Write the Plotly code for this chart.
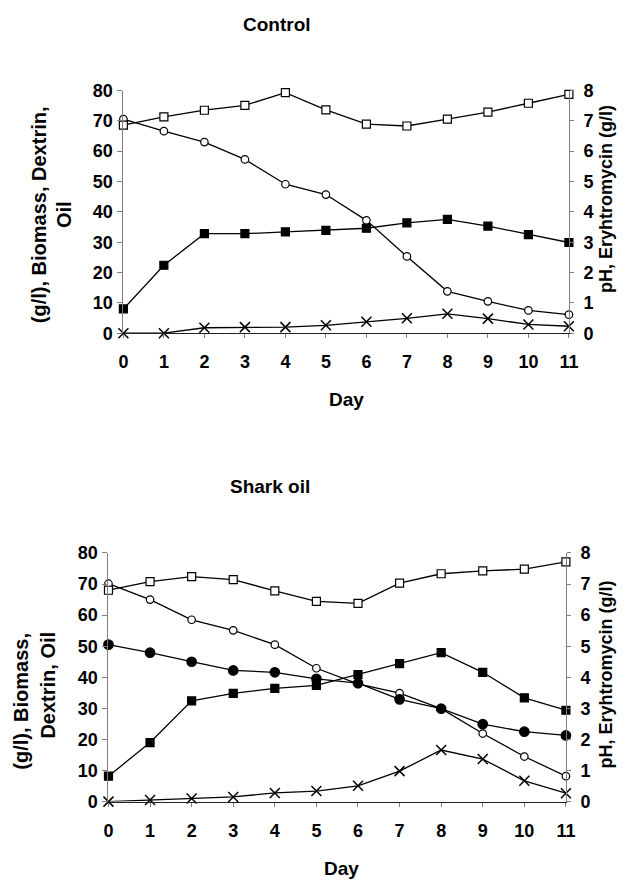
import plotly.graph_objects as go

days = list(range(12))
day_labels = [str(d) for d in days]

# Control
ctrl_ph = [6.86, 7.13, 7.35, 7.51, 7.93, 7.36, 6.89, 6.83, 7.06, 7.29, 7.58, 7.87]
ctrl_dextrin = [70.6, 66.6, 63.0, 57.3, 49.1, 45.7, 37.2, 25.3, 13.8, 10.5, 7.5, 6.1]
ctrl_biomass = [8.0, 22.4, 32.8, 32.8, 33.4, 33.9, 34.6, 36.4, 37.5, 35.3, 32.5, 29.9]
ctrl_ery = [0.0, 0.0, 0.18, 0.20, 0.20, 0.26, 0.38, 0.49, 0.64, 0.48, 0.29, 0.23]

# Shark oil
shark_ph = [6.80, 7.08, 7.24, 7.14, 6.78, 6.44, 6.38, 7.03, 7.33, 7.42, 7.48, 7.71]
shark_dextrin = [70.1, 65.0, 58.5, 55.1, 50.5, 42.9, 37.9, 34.9, 29.9, 21.9, 14.5, 8.2]
shark_oil = [50.5, 47.9, 45.0, 42.2, 41.6, 39.5, 38.1, 32.9, 29.9, 24.9, 22.5, 21.3]
shark_biomass = [8.2, 19.0, 32.4, 34.8, 36.4, 37.4, 40.9, 44.4, 47.9, 41.6, 33.4, 29.4]
shark_ery = [0.0, 0.05, 0.10, 0.15, 0.28, 0.34, 0.51, 0.98, 1.66, 1.37, 0.67, 0.27]

W, H = 640, 900
SX, OX = 0.982, 10.0
SY, OY = 0.979, 16.4
FONT = "Liberation Sans, Arial, sans-serif"
LINE = dict(color="black", width=1.3)


def px(x):
    return ((x - OX) / SX) / W


def py(y):
    return 1 - ((y - OY) / SY) / H


def series(x, y, xa, ya, symbol, size, fill):
    if symbol == "x-thin":
        marker = dict(symbol="x-thin", size=size, color="black",
                      line=dict(color="black", width=1.5))
    else:
        marker = dict(symbol=symbol, size=size, color=fill,
                      line=dict(color="black", width=1.2))
    return go.Scatter(x=x, y=y, xaxis=xa, yaxis=ya, mode="lines+markers",
                      line=LINE, marker=marker, cliponaxis=False,
                      showlegend=False)


fig = go.Figure()
# Control panel
fig.add_trace(series(days, ctrl_ph, "x", "y2", "square", 8, "white"))
fig.add_trace(series(days, ctrl_dextrin, "x", "y", "circle", 7.5, "white"))
fig.add_trace(series(days, ctrl_biomass, "x", "y", "square", 8, "black"))
fig.add_trace(series(days, ctrl_ery, "x", "y2", "x-thin", 10, "black"))
# Shark oil panel
fig.add_trace(series(days, shark_ph, "x2", "y4", "square", 8, "white"))
fig.add_trace(series(days, shark_dextrin, "x2", "y3", "circle", 7.5, "white"))
fig.add_trace(series(days, shark_oil, "x2", "y3", "circle", 9.5, "black"))
fig.add_trace(series(days, shark_biomass, "x2", "y3", "square", 8, "black"))
fig.add_trace(series(days, shark_ery, "x2", "y4", "x-thin", 10, "black"))

tickfont = dict(family=FONT, size=18, color="black", weight="bold")
AXGRAY = "#7f7f7f"


def xaxis(domain, anchor, standoff):
    return dict(domain=domain, anchor=anchor, range=[0, 11], tickvals=days,
                ticktext=day_labels, showline=True, linecolor="#222",
                linewidth=1, ticks="outside", ticklen=4, tickcolor=AXGRAY,
                showgrid=False, zeroline=False, tickfont=tickfont,
                ticklabelstandoff=standoff, fixedrange=True)


def yleft(domain, anchor):
    return dict(domain=domain, anchor=anchor, range=[0, 80], dtick=10,
                showline=True, linecolor=AXGRAY, linewidth=1, ticks="outside",
                ticklen=5, tickcolor=AXGRAY, showgrid=False, zeroline=False,
                tickfont=tickfont, ticklabelstandoff=1)


def yright(domain, anchor, overlay):
    return dict(domain=domain, anchor=anchor, overlaying=overlay, side="right",
                range=[0, 8], dtick=1, showline=True, linecolor=AXGRAY,
                linewidth=1, ticks="outside", ticklen=4, tickcolor=AXGRAY,
                showgrid=False, zeroline=False, tickfont=tickfont,
                ticklabelstandoff=6)


top_x = [px(121), px(569)]
top_y = [py(332), py(89)]
bot_x = [px(106), px(566)]
bot_y = [py(801), py(552)]

fig.update_layout(
    width=W, height=H, margin=dict(l=0, r=0, t=0, b=0),
    paper_bgcolor="white", plot_bgcolor="rgba(0,0,0,0)",
    xaxis=xaxis(top_x, "y", 8), yaxis=yleft(top_y, "x"),
    yaxis2=yright(top_y, "x", "y"),
    xaxis2=xaxis(bot_x, "y3", 9), yaxis3=yleft(bot_y, "x2"),
    yaxis4=yright(bot_y, "x2", "y3"),
)


def ann(text, x, y, size, angle=0):
    fig.add_annotation(text=text, x=px(x), y=py(y), xref="paper", yref="paper",
                       showarrow=False, textangle=angle,
                       xanchor="center", yanchor="middle",
                       font=dict(family=FONT, size=size, color="black",
                                 weight="bold"))


ann("Control", 275, 23, 19)
ann("Shark oil", 268, 485, 19)
ann("Day", 345, 398, 19)
ann("Day", 340, 868, 19)
# left axis titles
ann("(g/l), Biomass, Dextrin,", 36, 213, 20, -90)
ann("Oil", 62, 213, 20, -90)
ann("(g/l), Biomass,", 18, 700, 20, -90)
ann("Dextrin, Oil", 45, 684, 20, -90)
# right axis titles
ann("pH, Eryhtromycin (g/l)", 607, 198, 18, -90)
ann("pH, Eryhtromycin (g/l)", 606, 674, 18, -90)

fig.write_html("out.html")
